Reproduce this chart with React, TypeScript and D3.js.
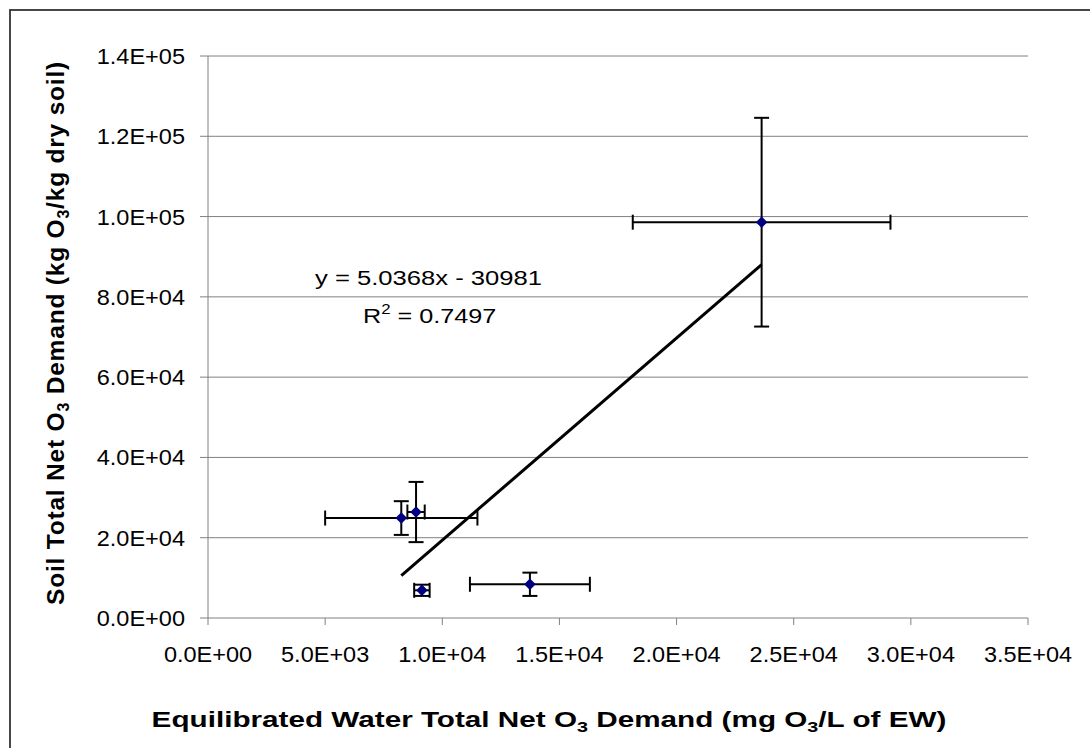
import React from "react";
import * as d3 from "d3";

const xValues = [8250, 8880, 9130, 13740, 23630];
const yValues = [24900, 26400, 6900, 8400, 98600];
const xErrors = [3250, 370, 330, 2560, 5500];
const yErrors = [4200, 7500, 1400, 2900, 26000];
const xTicks = [0, 5000, 10000, 15000, 20000, 25000, 30000, 35000];
const yTicks = [0, 20000, 40000, 60000, 80000, 100000, 120000, 140000];
const slope = 5.0368;
const intercept = -30981;

const fmt = (v: number) => {
  const s = v.toExponential(1).toUpperCase();
  const m = s.match(/^(-?[\d.]+)E([+-])(\d+)$/);
  if (!m) return s;
  return `${m[1]}E${m[2]}${m[3].padStart(2, "0")}`;
};

export default function App() {
  const W = 1090, H = 748;
  const left = 208, right = 1028, top = 56, bottom = 618;
  const x = d3.scaleLinear().domain([0, 35000]).range([left, right]);
  const y = d3.scaleLinear().domain([0, 140000]).range([bottom, top]);
  const font = "'Liberation Sans', Arial, sans-serif";
  const axisColor = "#808080";
  const cap = 7.5;
  const xMin = d3.min(xValues) as number;
  const xMax = d3.max(xValues) as number;
  const trend = d3.line<number>().x((d) => x(d)).y((d) => y(slope * d + intercept));
  const diamond = d3.symbol().type(d3.symbolDiamond2).size(85)();
  const tickStretch = 1.055;

  return (
    <svg width={W} height={H} style={{ position: "absolute", left: 0, top: 0, background: "#fff" }} fontFamily={font}>
      <rect x={10} y={10} width={1200} height={900} fill="#fff" stroke="#333" strokeWidth={1.8} />
      {yTicks.slice(1).map((t) => (
        <line key={"g" + t} x1={left} x2={right} y1={y(t)} y2={y(t)} stroke={axisColor} strokeWidth={1} />
      ))}
      <line x1={left} x2={left} y1={top} y2={bottom} stroke={axisColor} strokeWidth={1} />
      <line x1={left} x2={right} y1={bottom} y2={bottom} stroke={axisColor} strokeWidth={1} />
      {yTicks.map((t) => (
        <g key={"yt" + t}>
          <line x1={left - 8} x2={left} y1={y(t)} y2={y(t)} stroke={axisColor} />
          <text transform={`translate(185,${y(t) + 8}) scale(${tickStretch},1)`} textAnchor="end" fontSize={22.3} fill="#000">{fmt(t)}</text>
        </g>
      ))}
      {xTicks.map((t) => (
        <g key={"xt" + t}>
          <line x1={x(t)} x2={x(t)} y1={bottom} y2={bottom + 7} stroke={axisColor} />
          <text transform={`translate(${x(t)},662) scale(${tickStretch},1)`} textAnchor="middle" fontSize={22.3} fill="#000">{fmt(t)}</text>
        </g>
      ))}
      <path d={trend([xMin, xMax]) as string} stroke="#000" strokeWidth={3} fill="none" />
      {xValues.map((xv, i) => {
        const yv = yValues[i];
        const px = x(xv), py = y(yv);
        const x0 = x(xv - xErrors[i]), x1 = x(xv + xErrors[i]);
        const y0 = y(yv - yErrors[i]), y1 = y(yv + yErrors[i]);
        return (
          <g key={"e" + i} stroke="#000" strokeWidth={2}>
            <line x1={x0} x2={x1} y1={py} y2={py} />
            <line x1={x0} x2={x0} y1={py - cap} y2={py + cap} />
            <line x1={x1} x2={x1} y1={py - cap} y2={py + cap} />
            <line x1={px} x2={px} y1={y0} y2={y1} />
            <line x1={px - cap} x2={px + cap} y1={y0} y2={y0} />
            <line x1={px - cap} x2={px + cap} y1={y1} y2={y1} />
          </g>
        );
      })}
      {xValues.map((xv, i) => (
        <path key={"m" + i} d={diamond as string} transform={`translate(${x(xv)},${y(yValues[i])})`} fill="#000080" />
      ))}
      <text transform="translate(315,285) scale(1.22,1)" fontSize={21} fill="#000">y = 5.0368x - 30981</text>
      <text transform="translate(363,323) scale(1.2,1)" fontSize={21} fill="#000">
        R<tspan dy={-9} fontSize={14}>2</tspan><tspan dy={9}> = 0.7497</tspan>
      </text>
      <text transform="translate(549,727) scale(1.32,1)" textAnchor="middle" fontSize={22.5} fontWeight="bold" fill="#000">
        Equilibrated Water Total Net O<tspan dy={5} fontSize={15}>3</tspan>
        <tspan dy={-5}> Demand (mg O</tspan><tspan dy={5} fontSize={15}>3</tspan>
        <tspan dy={-5}>/L of EW)</tspan>
      </text>
      <text transform="translate(64,333) rotate(-90)" textAnchor="middle" fontSize={24.5} letterSpacing={0.8} fontWeight="bold" fill="#000">
        Soil Total Net O<tspan dy={5} fontSize={16}>3</tspan>
        <tspan dy={-5}> Demand (kg O</tspan><tspan dy={5} fontSize={16}>3</tspan>
        <tspan dy={-5}>/kg dry soil)</tspan>
      </text>
    </svg>
  );
}
